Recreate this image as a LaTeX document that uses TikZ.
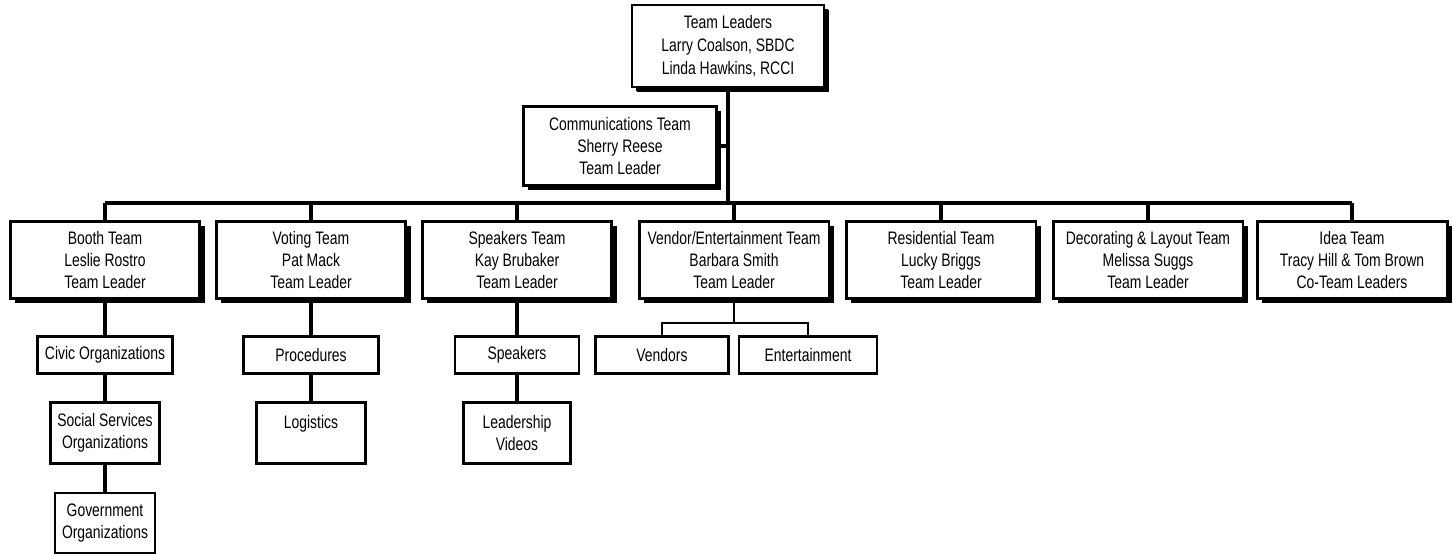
\documentclass[tikz,border=0pt]{standalone}
\usepackage{fontspec}
\setmainfont{Liberation Sans}[FakeStretch=0.77]
\usetikzlibrary{shadows}

\begin{document}
\begin{tikzpicture}[x=0.02cm,y=-0.02cm,
  team/.style={draw,line width=1.7pt,fill=white,align=center,inner sep=1pt,
    minimum width=3.8cm,minimum height=1.54cm,font=\fontsize{10.3}{12.5}\selectfont,
    drop shadow={shadow xshift=2.6pt,shadow yshift=-2.6pt,fill=black,opacity=1}},
  unit/.style={draw,line width=1.4pt,fill=white,align=center,inner sep=1pt,
    minimum height=0.74cm,font=\fontsize{10.3}{12.5}\selectfont},
  link/.style={line width=1.8pt},
  fork/.style={line width=1.4pt}]
\useasboundingbox (0,0) rectangle (1452,554);

\node[team,line width=1.1pt,drop shadow={shadow xshift=2pt,shadow yshift=-2pt,fill=black,opacity=1},
  minimum width=3.84cm,minimum height=1.64cm,font=\fontsize{10.3}{13.2}\selectfont] (lead) at (728,46)
  {Team Leaders\\Larry Coalson, SBDC\\Linda Hawkins, RCCI};
\node[team,minimum width=3.86cm,minimum height=1.58cm] (comm) at (620,146)
  {Communications Team\\Sherry Reese\\Team Leader};
\coordinate (bus) at (728,203);

\node[team] (booth) at (105,260) {Booth Team\\Leslie Rostro\\Team Leader};
\node[team] (voting) at (311,260) {Voting Team\\Pat Mack\\Team Leader};
\node[team] (speakers) at (517,260) {Speakers Team\\Kay Brubaker\\Team Leader};
\node[team] (vendor) at (734,260) {Vendor/Entertainment Team\\Barbara Smith\\Team Leader};
\node[team] (resid) at (941,260) {Residential Team\\Lucky Briggs\\Team Leader};
\node[team] (decor) at (1148,260) {Decorating \& Layout Team\\Melissa Suggs\\Team Leader};
\node[team] (idea) at (1352,260) {Idea Team\\Tracy Hill \& Tom Brown\\Co-Team Leaders};

\node[unit,minimum width=2.7cm] (civic) at (105,355) {Civic Organizations};
\node[unit,minimum width=2.18cm,minimum height=1.22cm] (social) at (105,433) {Social Services\\Organizations};
\node[unit,line width=0.8pt,minimum width=2cm,minimum height=1.2cm] (govt) at (105,523) {Government\\Organizations};
\node[unit,minimum width=2.7cm] (proc) at (311,355) {Procedures};
\node[unit,minimum width=2.18cm,minimum height=1.22cm] (logis) at (311,433) {Logistics\\\mbox{}};
\node[unit,minimum width=2.48cm] (spk) at (517,355) {Speakers};
\node[unit,minimum width=2.14cm,minimum height=1.22cm] (videos) at (517,433) {Leadership\\Videos};
\node[unit,minimum width=2.66cm] (vendors) at (662,355) {Vendors};
\node[unit,minimum width=2.76cm] (ent) at (808,355) {Entertainment};
\coordinate (vfork) at (734,323);

\draw[link] (lead.south) -- (bus);
\draw[link] (comm.east) -- (comm.east -| bus);
\draw[link] (booth.north |- bus) -- (idea.north |- bus);
\foreach \t in {booth,voting,speakers,vendor,resid,decor,idea}
  \draw[link] (\t.north) -- (\t.north |- bus);

\draw[link,line width=2pt] (booth.south) -- (civic.north);
\draw[link,line width=2pt] (civic.south) -- (social.north);
\draw[link,line width=2pt] (social.south) -- (govt.north);
\draw[link] (voting.south) -- (proc.north);
\draw[link] (proc.south) -- (logis.north);
\draw[link] (speakers.south) -- (spk.north);
\draw[link] (spk.south) -- (videos.north);
\draw[fork] (vendor.south) -- (vfork);
\draw[fork] (vendors.north) |- (vfork) -| (ent.north);
\end{tikzpicture}
\end{document}
